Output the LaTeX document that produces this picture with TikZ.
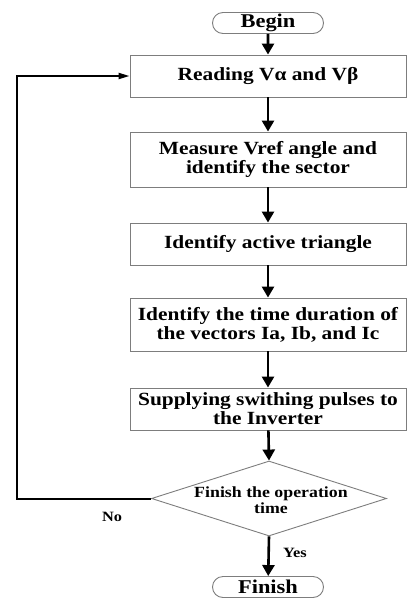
\documentclass[tikz,border=0pt]{standalone}
\usepackage{fontspec}
\setmainfont[FakeStretch=1.15]{Liberation Serif}
\usetikzlibrary{arrows.meta,shapes.geometric,shapes.misc}
\definecolor{boxgray}{RGB}{125,125,125}
\begin{document}
\begin{tikzpicture}[x=1pt,y=-1pt,
  box/.style={draw=boxgray, line width=0.9pt, minimum width=276pt, inner sep=0pt, align=center,
    font=\bfseries\fontsize{18.6}{19}\selectfont},
  term/.style={draw=boxgray, line width=0.9pt, rounded rectangle, minimum width=111pt, minimum height=21pt,
    inner sep=0pt, font=\bfseries\fontsize{19.5}{19}\selectfont},
  decbox/.style={draw=boxgray, line width=0.9pt, diamond, minimum width=235pt, minimum height=75pt, inner sep=0pt},
  dtext/.style={align=center, inner sep=0pt, font=\bfseries\fontsize{15.5}{16}\selectfont},
  lbl/.style={inner sep=0pt, font=\bfseries\fontsize{14.2}{15}\selectfont},
  flow/.style={-{Triangle[length=11pt,width=12pt]}, line width=2.6pt},
  back/.style={-{Triangle[length=11pt,width=6pt]}, line width=2pt}
]
\useasboundingbox (0,0) rectangle (407,598);
\node[term] (begin) at (268,23) {Begin};
\node[box, minimum height=42pt] (read) at (268,76) {Reading Vα and Vβ};
\node[box, minimum height=55pt] (meas) at (268,159.5) {Measure Vref angle and\\identify the sector};
\node[box, minimum height=42pt] (act) at (268,244) {Identify active triangle};
\node[box, minimum height=53pt] (time) at (268,324.5) {Identify the time duration of\\the vectors Ia, Ib, and Ic};
\node[box, minimum height=42pt] (sup) at (268,409) {Supplying swithing pulses to\\the Inverter};
\node[decbox] (dec) at (269,498.5) {};
\node[dtext] (dect) at (271,500) {Finish the operation\\time};
\node[term] (fin) at (268,587) {Finish};
\node[lbl] (no) at (112,517) {No};
\node[lbl] (yes) at (295,553) {Yes};
\coordinate (loopx) at (17,0);

\draw[flow] (begin) -- (read);
\draw[flow] (read) -- (meas);
\draw[flow] (meas) -- (act);
\draw[flow] (act) -- (time);
\draw[flow] (time) -- (sup);
\draw[flow] (sup) -- (dec.north);
\draw[flow] (dec.south) -- (fin);
\draw[back] (dec.west) -- (loopx |- dec.west) -- (loopx |- read.west) -- (read.west);
\end{tikzpicture}
\end{document}
